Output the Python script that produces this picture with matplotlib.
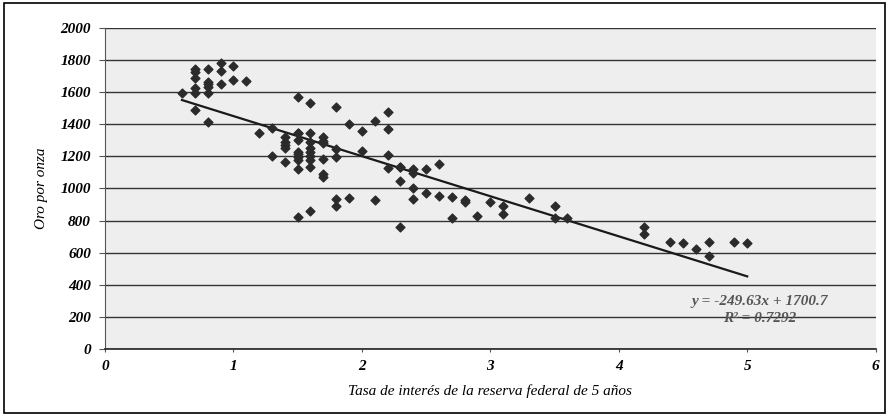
import matplotlib.pyplot as plt
import numpy as np
from matplotlib.patches import Rectangle

# tasa de interes (x) y oro por onza (y)
tasa = [0.6, 0.7, 0.7, 0.7, 0.7, 0.7, 0.7,
        0.8, 0.8, 0.8, 0.8, 0.8, 0.8, 0.9, 0.9, 0.9, 1.0, 1.0, 1.1,
        1.2, 1.3, 1.3, 1.4, 1.4, 1.4, 1.4, 1.4,
        1.5, 1.5, 1.5, 1.5, 1.5, 1.5, 1.5, 1.5, 1.5, 1.5,
        1.6, 1.6, 1.6, 1.6, 1.6, 1.6, 1.6, 1.6, 1.6,
        1.7, 1.7, 1.7, 1.7, 1.7, 1.7,
        1.8, 1.8, 1.8, 1.8, 1.8, 1.9, 1.9,
        2.0, 2.0, 2.1, 2.1, 2.2, 2.2, 2.2, 2.2,
        2.3, 2.3, 2.3, 2.3, 2.4, 2.4, 2.4, 2.4, 2.5, 2.5,
        2.6, 2.6, 2.7, 2.7, 2.8, 2.8, 2.9, 3.0, 3.1, 3.1, 3.3,
        3.5, 3.5, 3.6,
        4.2, 4.2, 4.4, 4.5, 4.6, 4.7, 4.7, 4.9, 5.0]
oro = [1597, 1745, 1725, 1686, 1624, 1597, 1489,
       1745, 1666, 1651, 1634, 1594, 1416, 1780, 1732, 1651, 1760, 1676, 1670,
       1348, 1375, 1202, 1319, 1292, 1271, 1250, 1163,
       1572, 1348, 1302, 1229, 1215, 1194, 1178, 1121, 824, 1345,
       1530, 1344, 1292, 1250, 1229, 1202, 1178, 1132, 860,
       1319, 1298, 1281, 1184, 1090, 1070,
       1510, 1243, 1194, 933, 891, 1400, 943,
       1360, 1234, 1423, 928, 1475, 1371, 1207, 1126,
       1136, 1047, 760, 1136, 1120, 1099, 1001, 935, 1120, 974,
       1151, 955, 949, 818, 928, 916, 829, 914, 891, 841, 943,
       891, 814, 814,
       762, 716, 669, 658, 625, 669, 579, 669, 658]

pendiente = -249.63
intercepto = 1700.7
r2 = 0.7292

fig = plt.figure(figsize=(8.89, 4.17), dpi=100)
ax = fig.add_axes([0.118, 0.163, 0.867, 0.770])
ax.set_facecolor('#eeeeee')

ax.scatter(tasa, oro, marker='D', s=20, color='#2b2b2b', zorder=3)

# linea de tendencia
xs = np.array([min(tasa), max(tasa)])
ax.plot(xs, pendiente * xs + intercepto, color='#1a1a1a', lw=1.6, zorder=2)

ax.set_xlim(0, 6)
ax.set_ylim(0, 2000)
ax.set_yticks(range(0, 2001, 200))
ax.set_xticks(range(0, 7))
ax.yaxis.grid(True, color='#333333', lw=1.0)
ax.set_axisbelow(True)
for s in ['top', 'right']:
    ax.spines[s].set_visible(False)
ax.spines['left'].set_color('#555555')
ax.spines['bottom'].set_color('#222222')
ax.spines['bottom'].set_linewidth(1.2)
ax.tick_params(axis='y', length=4, color='#555555', pad=6)
ax.tick_params(axis='x', length=2, color='#555555', pad=6)

tick_font = dict(family='Liberation Serif', style='italic', weight='bold', size=11)
for lab in ax.get_xticklabels() + ax.get_yticklabels():
    lab.set_fontproperties(tick_font)

ax.set_ylabel('Oro por onza', family='Liberation Serif', style='italic', fontsize=11, labelpad=9)
ax.set_xlabel('Tasa de interés de la reserva federal de 5 años', family='Liberation Serif',
              style='italic', fontsize=11, labelpad=8)

eq = f'y = {pendiente}x + {intercepto}\nR² = {r2}'
ax.text(5.1, 240, eq, ha='center', va='center', color='#555555', family='Liberation Serif',
        style='italic', weight='bold', fontsize=11, linespacing=1.4)

fig.patches.append(Rectangle((0.004, 0.01), 0.992, 0.982, transform=fig.transFigure,
                             fill=False, edgecolor='black', lw=1.2))

plt.savefig('out.png')
plt.close()
